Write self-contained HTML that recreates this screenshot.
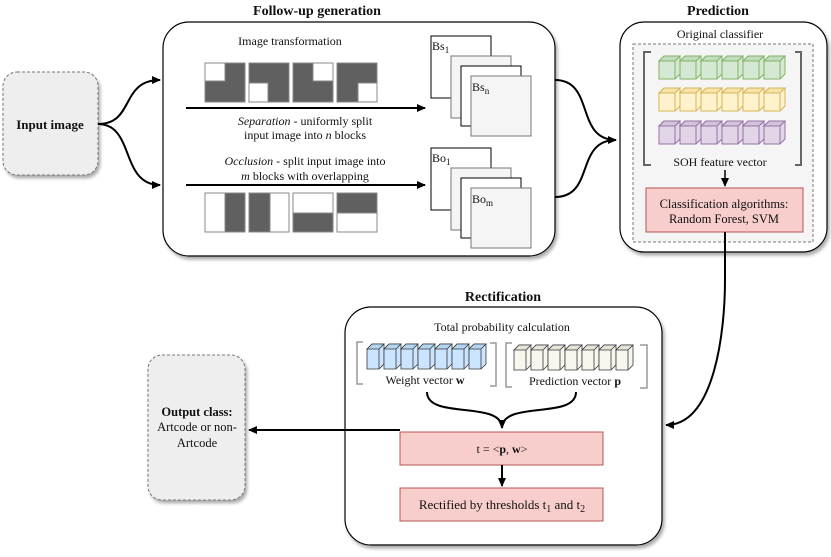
<!DOCTYPE html>
<html><head><style>body{margin:0;background:#fff}svg{display:block}text{font-family:"Liberation Serif",serif;fill:#111}</style></head><body>
<svg width="831" height="557" viewBox="0 0 831 557" xmlns="http://www.w3.org/2000/svg">
<defs>
<marker id="ar" markerWidth="10" markerHeight="10" refX="8" refY="5" orient="auto" markerUnits="userSpaceOnUse"><path d="M0,1 L9,5 L0,9 Z" fill="#000"/></marker>
<filter id="sh" x="-10%" y="-10%" width="130%" height="130%"><feDropShadow dx="2" dy="3" stdDeviation="1.5" flood-color="#888" flood-opacity="0.7"/></filter>
<g id="cg"><path d="M0,5 L5,0 L21,0 L21,18 L16,23 L0,23 Z" fill="#d5e8d4" stroke="#82b366"/><path d="M0,5 L5,0 L21,0 L16,5 Z M16,5 L16,23" fill="#c2dcbf" stroke="#82b366"/></g>
<g id="cy"><path d="M0,5 L5,0 L21,0 L21,18 L16,23 L0,23 Z" fill="#fff2cc" stroke="#d6b656"/><path d="M0,5 L5,0 L21,0 L16,5 Z M16,5 L16,23" fill="#f5e3a8" stroke="#d6b656"/></g>
<g id="cp"><path d="M0,5 L5,0 L21,0 L21,18 L16,23 L0,23 Z" fill="#e1d5e7" stroke="#9673a6"/><path d="M0,5 L5,0 L21,0 L16,5 Z M16,5 L16,23" fill="#d3c2dc" stroke="#9673a6"/></g>
<g id="cb"><path d="M0,5 L5,0 L17,0 L17,20 L12,25 L0,25 Z" fill="#cce5ff" stroke="#36393d" stroke-width="0.8"/><path d="M0,5 L5,0 L17,0 L12,5 Z M12,5 L12,25" fill="#b5d4f2" stroke="#36393d" stroke-width="0.8"/></g>
<g id="cw"><path d="M0,5 L5,0 L17,0 L17,20 L12,25 L0,25 Z" fill="#f9f7ed" stroke="#36393d" stroke-width="0.8"/><path d="M0,5 L5,0 L17,0 L12,5 Z M12,5 L12,25" fill="#e8e5d6" stroke="#36393d" stroke-width="0.8"/></g>
</defs>

<!-- Input image -->
<rect x="3" y="72" width="95" height="103" rx="14" fill="#eeeeee" stroke="#777" stroke-dasharray="3,2" filter="url(#sh)"/>
<text x="50" y="129" font-size="13" font-weight="bold" text-anchor="middle">Input image</text>
<path d="M98,124 C135,124 120,80 160,80" fill="none" stroke="#000" stroke-width="2" marker-end="url(#ar)"/>
<path d="M98,124 C135,124 120,185 160,185" fill="none" stroke="#000" stroke-width="2" marker-end="url(#ar)"/>

<!-- Follow-up -->
<text x="317" y="15" font-size="14" font-weight="bold" text-anchor="middle">Follow-up generation</text>
<rect x="163" y="22" width="392" height="234" rx="26" fill="#fff" stroke="#000" stroke-width="1.2" filter="url(#sh)"/>
<text x="290" y="45" font-size="12" text-anchor="middle">Image transformation</text>
<g stroke="#888" stroke-width="1">
<rect x="205" y="63" width="40" height="39" fill="#606060"/><rect x="205" y="63" width="20" height="18" fill="#fff"/>
<rect x="249" y="63" width="40" height="39" fill="#606060"/><rect x="249" y="83" width="19" height="19" fill="#fff"/>
<rect x="293" y="63" width="40" height="39" fill="#606060"/><rect x="313" y="63" width="20" height="18" fill="#fff"/>
<rect x="337" y="63" width="40" height="39" fill="#606060"/><rect x="358" y="83" width="19" height="19" fill="#fff"/>
<rect x="205" y="193" width="40" height="39" fill="#606060"/><rect x="205" y="193" width="20" height="39" fill="#fff"/>
<rect x="249" y="193" width="40" height="39" fill="#606060"/><rect x="270" y="193" width="19" height="39" fill="#fff"/>
<rect x="293" y="193" width="40" height="39" fill="#606060"/><rect x="293" y="193" width="40" height="20" fill="#fff"/>
<rect x="337" y="193" width="40" height="39" fill="#606060"/><rect x="337" y="213" width="40" height="19" fill="#fff"/>
</g>
<line x1="186" y1="108" x2="425" y2="108" stroke="#000" stroke-width="2" marker-end="url(#ar)"/>
<text x="305" y="125" font-size="12" text-anchor="middle"><tspan font-style="italic">Separation</tspan> - uniformly split</text>
<text x="305" y="139" font-size="12" text-anchor="middle">input image into <tspan font-style="italic">n</tspan> blocks</text>
<text x="305" y="165" font-size="12" text-anchor="middle"><tspan font-style="italic">Occlusion</tspan> - split input image into</text>
<text x="305" y="180" font-size="12" text-anchor="middle"><tspan font-style="italic">m</tspan> blocks with overlapping</text>
<line x1="186" y1="185" x2="425" y2="185" stroke="#000" stroke-width="2" marker-end="url(#ar)"/>
<g>
<rect x="431" y="36" width="60" height="62" fill="#fff" stroke="#000"/>
<rect x="451" y="56" width="60" height="62" fill="#f5f5f5" stroke="#777"/>
<rect x="461" y="66" width="60" height="60" fill="#fff" stroke="#000"/>
<rect x="471" y="76" width="60" height="60" fill="#f5f5f5" stroke="#777"/>
<text x="432" y="50" font-size="12">Bs<tspan font-size="9" dy="3">1</tspan></text>
<text x="472" y="91" font-size="12" fill="#444">Bs<tspan font-size="9" dy="3">n</tspan></text>
</g>
<g transform="translate(0,112)">
<rect x="431" y="36" width="60" height="62" fill="#fff" stroke="#000"/>
<rect x="451" y="56" width="60" height="62" fill="#f5f5f5" stroke="#777"/>
<rect x="461" y="66" width="60" height="60" fill="#fff" stroke="#000"/>
<rect x="471" y="76" width="60" height="60" fill="#f5f5f5" stroke="#777"/>
<text x="432" y="50" font-size="12">Bo<tspan font-size="9" dy="3">1</tspan></text>
<text x="472" y="91" font-size="12">Bo<tspan font-size="9" dy="3">m</tspan></text>
</g>
<path d="M555,80 C595,80 575,140 616,140" fill="none" stroke="#000" stroke-width="2" marker-end="url(#ar)"/>
<path d="M555,197 C595,197 575,140 616,140" fill="none" stroke="#000" stroke-width="2"/>

<!-- Prediction -->
<text x="718" y="15" font-size="14" font-weight="bold" text-anchor="middle">Prediction</text>
<rect x="620" y="22" width="207" height="230" rx="24" fill="#fff" stroke="#000" stroke-width="1.2" filter="url(#sh)"/>
<text x="720" y="38" font-size="12" text-anchor="middle">Original classifier</text>
<rect x="633" y="44" width="180" height="198" fill="#f5f5f5" stroke="#777" stroke-dasharray="3,2"/>
<path d="M651,52 L644,52 L644,165 L651,165 M795,52 L801,52 L801,165 L795,165" fill="none" stroke="#666" stroke-width="2"/>
<g transform="translate(659,56)"><use href="#cg"/><use href="#cg" x="21"/><use href="#cg" x="42"/><use href="#cg" x="63"/><use href="#cg" x="84"/><use href="#cg" x="105"/></g>
<g transform="translate(659,88)"><use href="#cy"/><use href="#cy" x="21"/><use href="#cy" x="42"/><use href="#cy" x="63"/><use href="#cy" x="84"/><use href="#cy" x="105"/></g>
<g transform="translate(659,121)"><use href="#cp"/><use href="#cp" x="21"/><use href="#cp" x="42"/><use href="#cp" x="63"/><use href="#cp" x="84"/><use href="#cp" x="105"/></g>
<text x="720" y="166" font-size="12" text-anchor="middle">SOH feature vector</text>
<line x1="725" y1="170" x2="725" y2="186" stroke="#000" stroke-width="1.5" marker-end="url(#ar)"/>
<rect x="646" y="188" width="157" height="44" fill="#f8cecc" stroke="#b85450"/>
<text x="724" y="208" font-size="12.5" text-anchor="middle">Classification algorithms:</text>
<text x="724" y="223" font-size="12.5" text-anchor="middle">Random Forest, SVM</text>
<path d="M725,232 L725,280 C725,330 715,425 666,425" fill="none" stroke="#000" stroke-width="2" marker-end="url(#ar)"/>

<!-- Rectification -->
<text x="503" y="301" font-size="14" font-weight="bold" text-anchor="middle">Rectification</text>
<rect x="345" y="307" width="317" height="238" rx="26" fill="#fff" stroke="#000" stroke-width="1.2" filter="url(#sh)"/>
<text x="502" y="331" font-size="12" text-anchor="middle">Total probability calculation</text>
<path d="M363,342 L357,342 L357,384 L363,384 M490,343 L496,343 L496,386 L490,386" fill="none" stroke="#999" stroke-width="1.5"/>
<path d="M512,343 L506,343 L506,387 L512,387 M640,345 L647,345 L647,388 L640,388" fill="none" stroke="#999" stroke-width="1.5"/>
<g transform="translate(367,344)"><use href="#cb"/><use href="#cb" x="17"/><use href="#cb" x="34"/><use href="#cb" x="51"/><use href="#cb" x="68"/><use href="#cb" x="85"/><use href="#cb" x="102"/></g>
<g transform="translate(514,345)"><use href="#cw"/><use href="#cw" x="17"/><use href="#cw" x="34"/><use href="#cw" x="51"/><use href="#cw" x="68"/><use href="#cw" x="85"/><use href="#cw" x="102"/></g>
<text x="425" y="384" font-size="12" text-anchor="middle">Weight vector <tspan font-weight="bold">w</tspan></text>
<text x="575" y="385" font-size="12" text-anchor="middle">Prediction vector <tspan font-weight="bold">p</tspan></text>
<path d="M427,392 C427,420 502,400 502,428" fill="none" stroke="#000" stroke-width="2" marker-end="url(#ar)"/>
<path d="M576,392 C576,420 502,400 502,428" fill="none" stroke="#000" stroke-width="2"/>
<rect x="400" y="432" width="203" height="33" fill="#f8cecc" stroke="#b85450"/>
<text x="502" y="453" font-size="12" text-anchor="middle">t = &lt;<tspan font-weight="bold">p</tspan>, <tspan font-weight="bold">w</tspan>&gt;</text>
<line x1="502" y1="465" x2="502" y2="486" stroke="#000" stroke-width="2" marker-end="url(#ar)"/>
<rect x="400" y="488" width="203" height="33" fill="#f8cecc" stroke="#b85450"/>
<text x="502" y="509" font-size="13" text-anchor="middle">Rectified by thresholds t<tspan font-size="10" dy="3">1</tspan><tspan dy="-3"> and t</tspan><tspan font-size="10" dy="3">2</tspan></text>
<line x1="400" y1="430" x2="249" y2="430" stroke="#000" stroke-width="2" marker-end="url(#ar)"/>

<!-- Output -->
<rect x="148" y="355" width="97" height="145" rx="14" fill="#eeeeee" stroke="#777" stroke-dasharray="3,2" filter="url(#sh)"/>
<text x="197" y="416" font-size="12.5" font-weight="bold" text-anchor="middle">Output class:</text>
<text x="197" y="431" font-size="12.5" text-anchor="middle">Artcode or non-</text>
<text x="197" y="447" font-size="12.5" text-anchor="middle">Artcode</text>
</svg>
</body></html>
